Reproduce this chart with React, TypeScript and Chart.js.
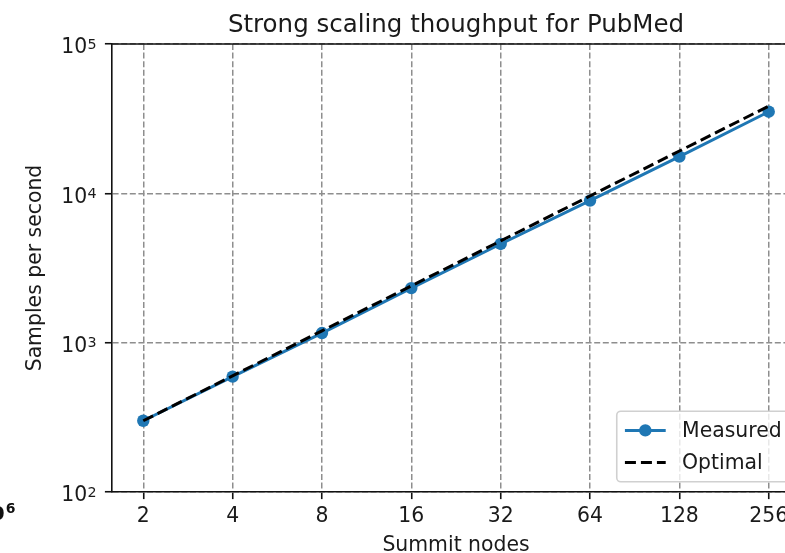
import React, { useEffect, useRef } from 'react';
import { Chart, registerables } from 'chart.js';

Chart.register(...registerables);

// ---- data ----
const nodes = [2, 4, 8, 16, 32, 64, 128, 256];
const measured = [300, 592, 1160, 2320, 4580, 8940, 17600, 35200];
const optimal = [300, 600, 1200, 2400, 4800, 9600, 19200, 38400];
const yTicks = [100, 1000, 10000, 100000];
const yTickBase = '10';
const yTickExponents = ['2', '3', '4', '5'];
const titleText = 'Strong scaling thoughput for PubMed';
const xTitle = 'Summit nodes';
const yTitle = 'Samples per second';

const FONT = "'DejaVu Sans', 'Liberation Sans', sans-serif";
const BASE = 20.4;
const TEXT = '#1a1a1a';
const GRID = '#8e8e8e';
const SPINE = '#111';

// matplotlib-like 5% margins on a log axis
const xMin = nodes[0] / Math.pow(nodes[nodes.length - 1] / nodes[0], 0.05);
const xMax = nodes[nodes.length - 1] * Math.pow(nodes[nodes.length - 1] / nodes[0], 0.05);

const framePlugin = {
  id: 'mplFrame',
  afterDraw(chart: any) {
    const { ctx, chartArea } = chart;
    ctx.save();
    ctx.strokeStyle = SPINE;
    ctx.lineWidth = 1.6;
    ctx.setLineDash([]);
    ctx.beginPath();
    ctx.moveTo(chartArea.left - 0.8, chartArea.top);
    ctx.lineTo(chartArea.right, chartArea.top);
    ctx.lineTo(chartArea.right, chartArea.bottom);
    ctx.stroke();
    ctx.restore();
  },
};

// y tick labels drawn as "10" + superscript exponent (mathtext style)
const yLabelPlugin = {
  id: 'mplYLabels',
  afterDraw(chart: any) {
    const { ctx, chartArea } = chart;
    const scale = chart.scales.y;
    const right = chartArea.left - 7.1 - 8.4;
    ctx.save();
    ctx.fillStyle = TEXT;
    ctx.textBaseline = 'alphabetic';
    ctx.textAlign = 'right';
    yTicks.forEach((v, i) => {
      const py = scale.getPixelForValue(v);
      ctx.font = `${BASE * 0.7}px ${FONT}`;
      const expW = ctx.measureText(yTickExponents[i]).width;
      ctx.fillText(yTickExponents[i], right, py + 4.8);
      ctx.font = `${BASE}px ${FONT}`;
      ctx.fillText(yTickBase, right - expW - 0.3, py + 9.4);
    });
    ctx.restore();
  },
};

const legendPlugin = {
  id: 'mplLegend',
  afterDatasetsDraw(chart: any) {
    const { ctx, chartArea } = chart;
    const fs = BASE;
    const items = chart.data.datasets;
    ctx.save();
    ctx.font = `${fs}px ${FONT}`;
    const textW = Math.max(...items.map((d: any) => ctx.measureText(d.label).width));
    const pad = 0.4 * fs;
    const handleLen = 2 * fs;
    const textPad = 0.8 * fs;
    const rowH = 1.08 * fs;
    const spacing = 0.5 * fs;
    const axPad = 0.5 * fs;
    const w = pad * 2 + handleLen + textPad + textW;
    const h = pad * 2 + rowH * items.length + spacing * (items.length - 1);
    const x = chartArea.right - axPad - w;
    const y = chartArea.bottom - axPad - h;
    const r = 0.2 * fs;
    ctx.beginPath();
    ctx.moveTo(x + r, y);
    ctx.lineTo(x + w - r, y);
    ctx.arcTo(x + w, y, x + w, y + r, r);
    ctx.lineTo(x + w, y + h - r);
    ctx.arcTo(x + w, y + h, x + w - r, y + h, r);
    ctx.lineTo(x + r, y + h);
    ctx.arcTo(x, y + h, x, y + h - r, r);
    ctx.lineTo(x, y + r);
    ctx.arcTo(x, y, x + r, y, r);
    ctx.closePath();
    ctx.fillStyle = 'rgba(255,255,255,0.8)';
    ctx.fill();
    ctx.strokeStyle = '#d0d0d0';
    ctx.lineWidth = 1.6;
    ctx.stroke();
    items.forEach((d: any, i: number) => {
      const cy = y + pad + rowH / 2 + i * (rowH + spacing);
      const hx = x + pad;
      ctx.strokeStyle = d.borderColor;
      ctx.lineWidth = d.borderWidth;
      ctx.setLineDash(d.borderDash || []);
      ctx.beginPath();
      ctx.moveTo(hx, cy);
      ctx.lineTo(hx + handleLen, cy);
      ctx.stroke();
      ctx.setLineDash([]);
      if (d.pointRadius > 0) {
        ctx.fillStyle = d.pointBackgroundColor;
        ctx.beginPath();
        ctx.arc(hx + handleLen / 2, cy, d.pointRadius, 0, Math.PI * 2);
        ctx.fill();
      }
      ctx.fillStyle = TEXT;
      ctx.textBaseline = 'middle';
      ctx.textAlign = 'left';
      ctx.fillText(d.label, hx + handleLen + textPad, cy + 1);
    });
    ctx.restore();
  },
};

export default function App() {
  const canvasRef = useRef<HTMLCanvasElement | null>(null);

  useEffect(() => {
    if (!canvasRef.current) return;
    const chart = new Chart(canvasRef.current, {
      type: 'line',
      data: {
        labels: nodes,
        datasets: [
          {
            label: 'Measured',
            data: nodes.map((n, i) => ({ x: n, y: measured[i] })),
            borderColor: '#1f77b4',
            backgroundColor: '#1f77b4',
            pointBackgroundColor: '#1f77b4',
            pointBorderWidth: 0,
            pointRadius: 6.2,
            borderWidth: 3,
            tension: 0,
            order: 2,
          } as any,
          {
            label: 'Optimal',
            data: nodes.map((n, i) => ({ x: n, y: optimal[i] })),
            borderColor: '#000000',
            backgroundColor: '#000000',
            pointBackgroundColor: '#000000',
            borderDash: [11, 5],
            pointRadius: 0,
            borderWidth: 3,
            tension: 0,
            order: 1,
          } as any,
        ],
      },
      options: {
        animation: false,
        responsive: true,
        maintainAspectRatio: false,
        layout: { padding: { left: 0, right: 30, top: 0, bottom: 0 } },
        plugins: {
          legend: { display: false },
          tooltip: { enabled: false },
          title: {
            display: true,
            text: titleText,
            fullSize: false,
            color: TEXT,
            font: { family: FONT, size: 24.5, weight: 'normal', lineHeight: 1.2 },
            padding: { top: 10.7, bottom: 3.9 },
          },
        },
        scales: {
          x: {
            type: 'logarithmic',
            min: xMin,
            max: xMax,
            afterBuildTicks: (s: any) => {
              s.ticks = nodes.map((v) => ({ value: v }));
            },
            afterFit: (s: any) => {
              s.height = 61;
            },
            ticks: {
              callback: (v: any) => String(v),
              autoSkip: false,
              maxRotation: 0,
              minRotation: 0,
              color: TEXT,
              font: { family: FONT, size: BASE, lineHeight: 1 },
              padding: 7.2,
            },
            grid: {
              color: GRID,
              lineWidth: 1.5,
              drawTicks: true,
              tickLength: 7.1,
              tickColor: SPINE,
              tickWidth: 1.6,
              tickBorderDash: [],
            },
            border: { display: true, color: SPINE, width: 1.6, dash: [6, 2.6] },
            title: {
              display: true,
              text: xTitle,
              color: TEXT,
              font: { family: FONT, size: BASE, lineHeight: 0.6 },
              padding: { top: 0, bottom: 1.2 },
            },
          } as any,
          y: {
            type: 'logarithmic',
            min: yTicks[0],
            max: yTicks[yTicks.length - 1],
            afterBuildTicks: (s: any) => {
              s.ticks = yTicks.map((v) => ({ value: v }));
            },
            afterFit: (s: any) => {
              s.width = 112;
            },
            ticks: {
              display: false,
              autoSkip: false,
            },
            grid: {
              color: GRID,
              lineWidth: 1.5,
              drawTicks: true,
              tickLength: 7.1,
              tickColor: SPINE,
              tickWidth: 1.6,
              tickBorderDash: [],
            },
            border: { display: true, color: SPINE, width: 1.6, dash: [6, 2.6] },
            title: {
              display: true,
              text: yTitle,
              color: TEXT,
              font: { family: FONT, size: BASE, lineHeight: 1.2 },
              padding: { top: 23.8, bottom: 0 },
            },
          } as any,
        },
      },
      plugins: [framePlugin, yLabelPlugin, legendPlugin],
    });
    return () => chart.destroy();
  }, []);

  return (
    <div
      style={{
        position: 'fixed',
        left: 0,
        top: 0,
        width: 785,
        height: 553,
        overflow: 'hidden',
        background: '#fff',
      }}
    >
      <div style={{ position: 'absolute', left: 0, top: 0, width: 830, height: 553 }}>
        <canvas ref={canvasRef} />
      </div>
      <div
        style={{
          position: 'absolute',
          left: 0,
          top: 490,
          width: 16,
          height: 40,
          overflow: 'hidden',
        }}
      >
        <span
          style={{
            position: 'absolute',
            right: 0.5,
            top: 13,
            whiteSpace: 'nowrap',
            fontFamily: FONT,
            fontWeight: 'bold',
            fontSize: 20,
            lineHeight: '20px',
            color: '#111',
          }}
        >
          10
          <span style={{ fontSize: 14, position: 'relative', top: -7, marginLeft: 1 }}>6</span>
        </span>
      </div>
    </div>
  );
}
